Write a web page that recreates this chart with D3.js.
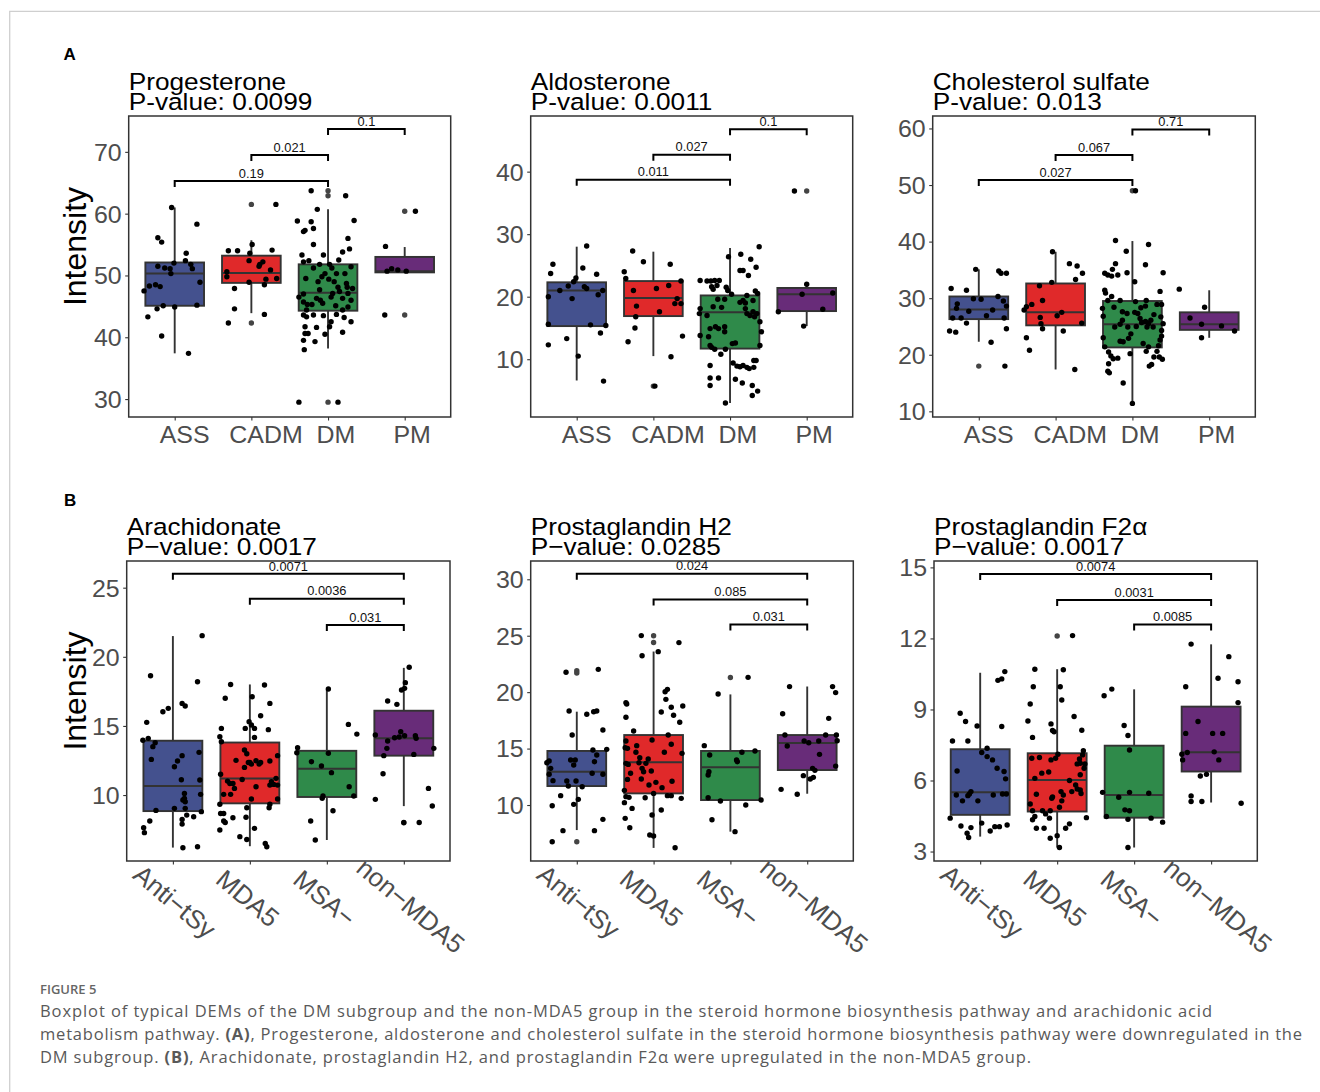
<!DOCTYPE html>
<html>
<head>
<meta charset="utf-8">
<script src="https://cdn.jsdelivr.net/npm/d3@7"></script>
<style>
  body { margin: 0; background: #fff; }
  svg { display: block; }
</style>
</head>
<body>
<div id="chart"></div>
<script>
// groups + colours
var groupsA = ["ASS", "CADM", "DM", "PM"];
var groupsB = ["Anti\u2212tSy", "MDA5", "MSA\u2212", "non\u2212MDA5"];
var fills = ["#44518E", "#E0292A", "#2F8A4A", "#682C79"];

// box stats per group: [q1, median, q3, whiskerLo, whiskerHi]
// points: [jitter offset (in category units), value]
// sig brackets: [from, to, y, label]

// ---- Progesterone
var progDomain = [27.1, 75.8];
var progTicks = [30, 40, 50, 60, 70];
var progBox = [[45.1, 50.3, 52.1, 37.4, 61.0], [48.8, 50.4, 53.2, 43.9, 55.7], [44.3, 47.2, 51.8, 38.2, 60.7], [50.5, 50.7, 53.0, 50.5, 54.6]];
var progOut = [[], [61.5, 42.3], [63.7, 62.9, 29.5], [60.4, 43.6]];
var progPts = [
	[[-0.40,47.5],[-0.33,48.3],[-0.25,48.5],[-0.19,48.2],[-0.35,43.3],[-0.22,56.1],[-0.17,55.4],[-0.22,51.5],[-0.13,51.2],[-0.06,51.1],[-0.01,52.0],[-0.05,50.3],[0.15,53.6],[0.14,52.4],[0.21,51.8],[0.23,51.1],[0.29,58.3],[0.33,48.9],[0.29,45.2],[0.00,44.9],[-0.15,45.1],[-0.23,44.6],[-0.17,40.2],[0.18,37.4],[-0.04,61.0]],
	[[-0.32,50.6],[-0.32,49.8],[-0.30,54.0],[-0.18,54.0],[-0.22,47.9],[-0.22,44.6],[-0.30,42.3],[0.32,61.5],[0.01,55.0],[-0.02,53.6],[-0.03,52.4],[-0.03,48.9],[0.11,51.8],[0.15,52.2],[0.10,51.5],[0.25,50.9],[0.19,49.4],[0.17,48.5],[0.33,49.5],[0.27,54.1],[0.17,43.7]],
	[[-0.22,63.7],[-0.14,60.7],[0.23,62.9],[0.34,58.9],[-0.40,58.8],[-0.22,58.7],[-0.30,57.3],[-0.19,57.6],[-0.32,57.1],[0.26,56.0],[-0.19,55.0],[0.19,53.8],[-0.34,53.3],[-0.06,53.3],[0.14,52.5],[-0.32,52.2],[0.02,51.8],[-0.11,51.8],[0.30,51.4],[-0.19,51.2],[0.05,51.2],[-0.04,50.3],[-0.08,49.8],[-0.29,49.5],[0.11,50.3],[0.22,50.3],[0.01,49.4],[-0.13,49.0],[0.24,48.7],[0.32,47.9],[0.13,48.1],[0.25,48.1],[-0.11,47.7],[-0.32,47.0],[-0.38,46.5],[-0.15,46.3],[0.04,46.5],[0.19,46.3],[0.30,46.0],[-0.10,46.0],[-0.32,45.7],[-0.27,45.3],[-0.21,45.3],[0.10,45.1],[0.26,44.9],[0.19,44.4],[-0.19,43.6],[-0.32,43.6],[-0.28,43.3],[-0.06,43.5],[0.11,43.7],[0.21,43.2],[0.30,42.5],[0.04,42.5],[0.02,41.7],[-0.30,41.7],[-0.15,41.6],[-0.30,40.6],[-0.26,40.6],[-0.04,40.5],[0.19,40.8],[-0.32,39.5],[-0.17,39.3],[-0.31,38.0],[-0.38,29.5],[0.13,29.5],[-0.28,44.4],[0.06,47.1],[0.15,47.4],[0.26,47.1],[-0.07,45.5],[0.08,49.0],[-0.25,52.4],[0.28,54.3]],
	[[-0.25,54.7],[-0.23,50.7],[-0.17,51.1],[-0.09,50.9],[0.02,50.7],[0.14,60.4],[-0.26,43.6]]
];
var progSig = [[0, 2, 65.3, "0.19"], [1, 2, 69.5, "0.021"], [2, 3, 73.7, "0.1"]];

// ---- Aldosterone
var aldoDomain = [0.76, 48.9];
var aldoTicks = [10, 20, 30, 40];
var aldoBox = [[15.3, 21.0, 22.3, 6.6, 28.0], [16.9, 19.8, 22.5, 10.5, 27.2], [11.7, 17.5, 20.2, 3.0, 27.8], [17.7, 20.4, 21.4, 15.3, 22.0]];
var aldoOut = [[], [5.7], [], [36.9]];
var aldoPts = [
	[[-0.31,25.2],[-0.34,23.7],[-0.37,20.0],[-0.37,15.6],[-0.37,12.3],[-0.22,21.0],[-0.13,13.3],[-0.11,21.7],[-0.06,19.7],[-0.04,22.4],[0.02,10.5],[-0.01,23.0],[0.08,24.6],[0.10,21.6],[0.13,28.1],[0.13,21.3],[0.18,15.5],[0.26,23.6],[0.28,20.3],[0.34,21.0],[0.38,15.4],[0.31,14.2],[0.35,6.5]],
	[[-0.38,24.0],[-0.36,22.9],[-0.26,21.0],[-0.22,18.5],[-0.23,16.8],[-0.24,15.0],[-0.33,12.8],[-0.27,27.3],[-0.13,25.6],[0.04,21.3],[0.08,17.6],[0.20,21.8],[0.22,25.2],[0.23,10.4],[0.28,18.9],[0.36,22.5],[0.36,18.9],[0.31,19.7],[0.38,13.7],[0.02,5.7]],
	[[-0.39,22.6],[-0.30,22.5],[-0.25,22.5],[-0.20,22.6],[-0.14,22.6],[-0.17,21.8],[-0.24,21.6],[-0.22,21.2],[-0.05,21.5],[-0.03,21.0],[0.02,20.4],[-0.07,19.6],[-0.11,18.3],[-0.16,19.6],[-0.22,18.4],[-0.39,18.1],[-0.40,17.3],[-0.30,17.0],[-0.26,14.9],[-0.28,13.6],[-0.19,15.2],[-0.15,14.9],[-0.07,15.2],[-0.07,14.4],[-0.39,13.8],[-0.26,12.2],[-0.24,11.9],[-0.20,11.6],[-0.12,10.8],[-0.06,11.6],[0.03,12.5],[0.07,12.6],[0.13,19.1],[0.17,19.4],[0.20,18.1],[0.22,17.3],[0.26,17.0],[0.30,17.6],[0.32,16.8],[0.35,17.3],[0.39,16.0],[0.41,14.4],[0.39,12.2],[0.36,20.5],[0.30,19.4],[0.22,20.2],[0.20,19.0],[-0.02,26.4],[0.14,26.8],[0.27,26.0],[0.13,24.2],[0.17,24.2],[0.24,23.4],[0.34,24.7],[0.38,28.0],[0.33,20.9],[-0.26,9.0],[-0.26,7.0],[-0.15,7.0],[0.04,9.4],[0.09,8.9],[0.13,8.8],[0.17,9.0],[0.22,8.7],[0.25,8.5],[0.31,8.7],[0.31,9.8],[0.34,9.8],[0.07,6.8],[0.16,6.2],[0.29,5.8],[0.36,4.9],[0.29,4.2],[-0.06,3.0],[-0.26,5.8]],
	[[-0.16,36.9],[-0.37,17.6],[-0.06,20.4],[0.00,22.0],[0.34,20.6],[0.21,18.0],[-0.04,15.3]]
];
var aldoSig = [[0, 2, 38.7, "0.011"], [1, 2, 42.7, "0.027"], [2, 3, 46.8, "0.1"]];

// ---- Cholesterol sulfate
var cholDomain = [9.0, 62.2];
var cholTicks = [10, 20, 30, 40, 50, 60];
var cholBox = [[26.3, 28.0, 30.3, 22.3, 35.1], [25.2, 27.5, 32.6, 17.4, 38.2], [21.3, 25.4, 29.5, 11.4, 40.1], [24.4, 25.4, 27.5, 23.0, 31.4]];
var cholOut = [[18.0], [], [49.0], []];
var cholPts = [
	[[-0.36,31.7],[-0.29,28.2],[-0.28,29.0],[-0.34,26.5],[-0.38,24.2],[-0.30,24.0],[-0.23,26.5],[-0.16,31.4],[-0.16,25.6],[-0.13,27.7],[-0.07,29.9],[-0.04,35.1],[0.03,29.8],[0.10,26.9],[0.16,22.2],[0.18,27.9],[0.25,30.3],[0.26,34.8],[0.29,34.4],[0.36,34.4],[0.32,29.5],[0.36,28.6],[0.33,26.5],[0.36,24.6],[0.34,18.0]],
	[[-0.41,27.9],[-0.38,28.5],[-0.31,28.9],[-0.38,23.0],[-0.34,20.8],[-0.21,32.2],[-0.20,26.6],[-0.17,29.6],[-0.17,24.6],[-0.19,25.5],[-0.05,32.8],[-0.04,38.2],[0.02,26.9],[0.08,27.5],[0.10,24.2],[0.18,36.1],[0.28,35.7],[0.26,33.3],[0.35,34.4],[0.34,25.6],[0.25,17.4]],
	[[0.04,49.0],[-0.22,40.2],[-0.08,38.3],[-0.07,34.5],[0.03,32.9],[0.21,39.5],[0.17,35.9],[0.40,34.5],[-0.22,36.1],[-0.26,35.1],[-0.36,34.4],[-0.32,34.1],[-0.27,33.9],[-0.19,34.1],[-0.36,31.4],[-0.35,30.9],[0.36,31.2],[-0.27,30.3],[-0.16,29.6],[-0.32,29.6],[-0.24,28.4],[-0.39,28.2],[-0.38,26.8],[-0.13,27.6],[-0.13,26.1],[-0.07,27.3],[-0.06,24.9],[-0.05,22.9],[-0.02,23.7],[0.03,27.5],[0.05,25.0],[0.12,25.7],[0.17,25.9],[0.19,24.9],[0.21,25.5],[0.24,26.1],[0.27,24.9],[0.28,27.1],[0.32,28.9],[0.38,28.9],[0.37,26.7],[0.40,25.5],[0.38,24.3],[0.38,23.3],[0.36,22.6],[0.34,21.6],[-0.38,23.0],[-0.36,21.4],[-0.31,20.5],[-0.28,19.8],[-0.25,19.3],[-0.19,19.4],[-0.31,18.4],[-0.32,17.1],[-0.30,16.8],[0.18,20.6],[0.28,19.6],[0.32,20.6],[0.35,19.6],[0.39,19.2],[0.25,18.3],[0.22,18.0],[-0.12,15.0],[0.00,11.4],[0.18,29.6],[0.04,29.4],[0.17,28.6],[0.11,28.3],[0.07,27.3],[0.10,26.4],[-0.16,25.4],[-0.23,24.9],[-0.16,22.4],[-0.12,22.3],[-0.03,20.2],[0.14,22.0],[0.21,21.4]],
	[[-0.39,31.6],[-0.25,26.5],[-0.10,25.4],[-0.06,28.4],[-0.10,23.0],[0.16,25.1],[0.33,24.2]]
];
var cholSig = [[0, 2, 50.9, "0.027"], [1, 2, 55.3, "0.067"], [2, 3, 59.8, "0.71"]];

// ---- Arachidonate
var araDomain = [5.23, 26.93];
var araTicks = [10, 15, 20, 25];
var araBox = [[8.84, 10.65, 13.93, 6.2, 21.5], [9.4, 11.2, 13.8, 6.3, 18.0], [9.86, 11.9, 13.2, 6.75, 17.7], [12.85, 14.1, 16.1, 9.2, 19.2]];
var araOut = [[], [], [], [8.0]];
var araPts = [
	[[-0.38,7.64],[-0.37,7.28],[-0.30,8.12],[-0.22,8.89],[-0.39,13.96],[-0.32,14.10],[-0.26,13.50],[-0.23,13.79],[-0.28,12.58],[-0.34,15.26],[-0.29,18.63],[-0.13,16.03],[-0.06,16.27],[0.12,16.63],[0.16,16.44],[0.32,18.20],[0.38,21.53],[0.02,12.05],[0.06,12.46],[0.12,12.85],[0.11,11.11],[0.02,9.04],[0.15,10.12],[0.15,9.76],[0.13,9.64],[0.16,9.52],[0.16,9.04],[0.18,8.55],[0.12,8.24],[0.12,7.90],[0.13,6.19],[0.32,6.26],[0.27,8.43],[0.35,11.09],[0.34,13.09],[0.36,10.05],[0.37,8.80]],
	[[-0.37,14.82],[-0.39,14.22],[-0.37,13.86],[-0.38,11.50],[-0.39,9.33],[-0.38,8.67],[-0.34,8.67],[-0.34,8.12],[-0.32,8.02],[-0.39,7.47],[-0.22,8.36],[-0.25,10.05],[-0.34,10.05],[-0.32,17.0],[-0.25,18.0],[-0.18,12.51],[-0.20,10.48],[-0.29,11.01],[-0.26,10.84],[-0.22,10.84],[-0.10,11.13],[-0.07,12.0],[-0.07,13.26],[-0.04,12.99],[-0.01,15.31],[0.02,15.07],[-0.06,14.82],[0.03,17.11],[0.06,14.82],[0.06,14.17],[-0.02,12.36],[0.00,12.36],[0.02,12.24],[0.08,12.48],[0.14,12.36],[0.12,12.24],[0.08,10.60],[0.02,9.71],[-0.04,9.08],[-0.05,8.39],[0.06,7.59],[-0.13,6.99],[-0.04,6.79],[0.14,15.74],[0.19,17.96],[0.26,16.63],[0.24,14.73],[0.26,12.46],[0.36,12.85],[0.34,11.21],[0.28,10.97],[0.26,10.72],[0.31,10.77],[0.36,10.72],[0.36,9.71],[0.26,9.33],[0.25,9.08],[0.20,6.50],[0.22,6.26]],
	[[-0.38,13.43],[-0.39,13.06],[-0.20,12.41],[-0.07,12.10],[0.02,13.02],[0.06,11.62],[0.02,17.67],[0.28,15.11],[0.39,14.41],[0.29,10.60],[0.35,9.93],[-0.05,9.93],[-0.06,9.76],[0.08,8.87],[-0.21,8.12],[-0.15,6.75]],
	[[0.07,19.24],[0.02,18.13],[0.01,17.72],[-0.03,17.60],[-0.21,16.80],[-0.09,16.56],[-0.37,14.34],[-0.21,13.91],[-0.12,14.15],[-0.04,14.58],[-0.06,14.20],[0.01,14.29],[0.15,14.29],[0.16,14.10],[-0.22,13.38],[-0.26,12.85],[0.13,12.94],[0.39,13.38],[-0.27,11.54],[-0.37,9.69],[0.32,10.48],[0.37,9.21],[0.20,8.02],[0.00,8.02]]
];
var araSig = [[0, 3, 26.0, "0.0071"], [1, 3, 24.2, "0.0036"], [2, 3, 22.3, "0.031"]];

// ---- Prostaglandin H2
var pgh2Domain = [5.04, 31.62];
var pgh2Ticks = [10, 15, 20, 25, 30];
var pgh2Box = [[11.68, 12.95, 14.79, 7.78, 18.27], [11.03, 13.8, 16.2, 6.2, 23.6], [10.44, 13.34, 14.79, 7.64, 19.8], [13.1, 15.5, 16.2, 11.0, 20.5]];
var pgh2Out = [[21.9, 21.7, 6.75], [25.0, 24.4], [21.3], []];
var pgh2Pts = [
	[[-0.39,13.75],[-0.36,13.90],[-0.34,13.25],[-0.36,12.72],[-0.31,12.16],[-0.32,9.94],[-0.32,6.75],[-0.21,10.83],[-0.18,7.73],[-0.14,21.76],[-0.10,18.33],[-0.06,16.20],[-0.13,12.13],[-0.11,11.68],[-0.04,13.54],[-0.08,13.99],[-0.02,13.99],[-0.01,12.13],[0.02,10.50],[-0.04,10.06],[0.07,11.62],[0.13,18.04],[0.22,18.27],[0.26,18.33],[0.28,22.02],[0.34,16.65],[0.23,13.84],[0.26,14.43],[0.21,14.87],[0.34,12.72],[0.39,14.93],[0.20,12.81],[0.34,8.73],[0.23,7.73]],
	[[-0.16,25.01],[-0.15,23.23],[0.06,23.59],[0.33,24.39],[-0.36,19.07],[-0.35,18.95],[-0.36,17.77],[-0.26,16.56],[-0.36,15.67],[-0.37,15.08],[-0.34,15.02],[-0.36,13.69],[-0.33,13.60],[-0.30,12.81],[-0.34,12.27],[-0.38,11.30],[-0.36,10.74],[-0.38,10.21],[-0.32,10.68],[-0.28,9.70],[-0.37,8.82],[-0.31,7.99],[-0.22,15.26],[-0.23,14.67],[-0.18,14.19],[-0.19,13.75],[-0.15,13.25],[-0.13,12.95],[-0.07,14.08],[-0.10,13.69],[-0.03,13.01],[-0.06,11.77],[-0.02,15.76],[0.00,11.03],[-0.02,9.11],[-0.05,7.34],[0.00,7.25],[-0.16,12.30],[-0.11,10.65],[0.03,12.01],[0.10,9.56],[0.11,11.54],[0.14,14.67],[0.19,16.20],[0.23,15.38],[0.24,12.10],[0.23,10.83],[0.18,10.83],[0.28,6.22],[0.15,20.04],[0.18,20.25],[0.16,19.36],[0.10,18.24],[0.23,18.66],[0.26,17.95],[0.38,18.77],[0.34,17.33],[0.37,14.58],[0.36,10.59]],
	[[-0.34,15.26],[-0.27,14.43],[-0.28,12.95],[-0.29,12.66],[-0.29,10.65],[-0.24,8.70],[-0.16,19.84],[-0.13,10.35],[0.06,7.64],[0.08,13.99],[0.09,13.84],[0.15,14.67],[0.23,21.31],[0.20,10.00],[0.32,14.79],[0.40,10.44]],
	[[-0.34,11.39],[-0.13,10.95],[-0.32,18.09],[-0.29,16.20],[-0.26,15.23],[-0.23,20.49],[-0.04,15.67],[0.02,15.52],[-0.05,12.60],[0.04,12.30],[0.08,12.45],[0.07,13.25],[0.10,13.07],[0.16,14.49],[0.15,15.67],[0.24,16.20],[0.28,17.68],[0.33,20.49],[0.37,19.96],[0.38,16.20],[0.39,15.70],[0.37,13.45]]
];
var pgh2Sig = [[0, 3, 30.5, "0.024"], [1, 3, 28.2, "0.085"], [2, 3, 26.0, "0.031"]];

// ---- Prostaglandin F2a
var pgfDomain = [2.6, 15.27];
var pgfTicks = [3, 6, 9, 12, 15];
var pgfBox = [[4.55, 5.5, 7.32, 3.63, 10.55], [4.69, 6.02, 7.15, 3.17, 10.7], [4.43, 5.39, 7.47, 3.17, 9.85], [6.38, 7.19, 9.12, 5.07, 11.75]];
var pgfOut = [[], [12.1], [], []];
var pgfPts = [
	[[-0.39,4.41],[-0.36,7.67],[-0.30,6.40],[-0.31,5.39],[-0.23,5.14],[-0.26,8.84],[-0.25,4.08],[-0.19,8.49],[-0.17,3.77],[-0.15,3.59],[-0.12,4.01],[-0.16,7.67],[-0.14,5.43],[-0.16,5.36],[-0.12,5.53],[-0.04,8.30],[-0.03,5.14],[0.02,7.18],[0.02,4.20],[0.09,7.36],[0.09,7.01],[0.13,3.87],[0.16,6.87],[0.17,5.39],[0.22,6.52],[0.19,4.05],[0.25,4.05],[0.23,10.23],[0.28,10.29],[0.32,10.60],[0.28,8.28],[0.31,6.38],[0.33,6.07],[0.29,5.43],[0.34,5.43],[0.35,4.12]],
	[[0.20,12.12],[-0.29,10.70],[-0.31,9.96],[-0.35,9.23],[-0.38,8.51],[-0.32,7.82],[-0.33,6.94],[-0.32,4.34],[-0.35,5.01],[-0.32,4.72],[-0.29,4.48],[-0.27,3.98],[-0.23,6.97],[-0.20,6.31],[-0.27,5.42],[-0.29,6.09],[-0.17,3.98],[-0.19,4.72],[-0.15,4.59],[-0.08,8.39],[-0.06,8.11],[-0.04,8.06],[-0.11,6.36],[-0.08,6.87],[-0.06,5.31],[-0.07,5.25],[-0.09,4.72],[-0.10,4.41],[-0.09,3.56],[-0.02,6.94],[0.01,7.11],[0.03,3.17],[0.03,4.87],[0.00,3.67],[0.05,5.53],[0.06,5.14],[0.04,9.96],[0.06,9.40],[0.08,10.68],[0.11,3.98],[0.16,4.17],[0.22,8.70],[0.26,6.70],[0.29,6.91],[0.24,5.81],[0.26,5.64],[0.30,6.73],[0.32,8.12],[0.33,7.08],[0.30,6.24],[0.31,5.45],[0.30,5.60],[0.35,6.52],[0.34,7.26],[0.38,4.43],[0.36,6.70],[0.16,6.00],[0.19,5.53],[0.08,5.39]],
	[[-0.39,9.58],[-0.29,9.86],[-0.13,8.32],[-0.08,7.90],[-0.06,7.29],[-0.41,5.50],[-0.36,4.48],[-0.20,5.29],[-0.12,4.76],[-0.06,4.72],[-0.06,5.50],[-0.08,4.36],[-0.08,3.17],[0.19,5.46],[0.22,4.41],[0.37,4.24]],
	[[-0.26,11.76],[-0.33,9.96],[-0.17,8.49],[-0.33,7.99],[-0.38,7.11],[-0.37,6.87],[-0.31,7.18],[-0.14,6.19],[-0.06,6.26],[-0.26,5.35],[-0.26,5.11],[-0.12,5.11],[0.02,7.99],[0.15,7.99],[0.04,7.21],[0.10,6.87],[0.09,10.32],[0.23,11.23],[0.35,10.17],[0.35,9.29],[0.39,5.04]]
];
var pgfSig = [[0, 3, 14.72, "0.0074"], [1, 3, 13.62, "0.0031"], [2, 3, 12.59, "0.0085"]];

var W = 1320, H = 1092;
var FONT = "'Liberation Sans', Arial, Helvetica, sans-serif";
var STRETCH = 1.07; // the source figure is a bit wider than tall

var svg = d3.select("#chart").append("svg")
	.attr("width", W)
	.attr("height", H)
	.style("font-family", FONT);

// page frame
svg.append("path")
	.attr("d", "M9.7," + H + "V11.3H" + W)
	.attr("fill", "none")
	.attr("stroke", "#cfcfcf")
	.attr("stroke-width", 1.3);

function stretch(sel) {
	sel.each(function(){
		var len = this.getComputedTextLength();
		this.setAttribute("textLength", len * STRETCH);
		this.setAttribute("lengthAdjust", "spacingAndGlyphs");
	});
}

var panels = [
	{title: "Progesterone", p: "P-value: 0.0099", groups: groupsA, box: progBox, out: progOut, pts: progPts, sig: progSig, domain: progDomain, ticks: progTicks, rect: [128.7, 116, 322, 301], ylab: true, rotate: false},
	{title: "Aldosterone", p: "P-value: 0.0011", groups: groupsA, box: aldoBox, out: aldoOut, pts: aldoPts, sig: aldoSig, domain: aldoDomain, ticks: aldoTicks, rect: [530.7, 116, 322, 301], ylab: false, rotate: false},
	{title: "Cholesterol sulfate", p: "P-value: 0.013", groups: groupsA, box: cholBox, out: cholOut, pts: cholPts, sig: cholSig, domain: cholDomain, ticks: cholTicks, rect: [932.7, 116, 322.6, 301], ylab: false, rotate: false},
	{title: "Arachidonate", p: "P\u2212value: 0.0017", groups: groupsB, box: araBox, out: araOut, pts: araPts, sig: araSig, domain: araDomain, ticks: araTicks, rect: [126.7, 561, 323.3, 300], ylab: true, rotate: true},
	{title: "Prostaglandin H2", p: "P\u2212value: 0.0285", groups: groupsB, box: pgh2Box, out: pgh2Out, pts: pgh2Pts, sig: pgh2Sig, domain: pgh2Domain, ticks: pgh2Ticks, rect: [530.7, 561, 322.6, 300], ylab: false, rotate: true},
	{title: "Prostaglandin F2\u03b1", p: "P\u2212value: 0.0017", groups: groupsB, box: pgfBox, out: pgfOut, pts: pgfPts, sig: pgfSig, domain: pgfDomain, ticks: pgfTicks, rect: [934, 561, 323.3, 300], ylab: false, rotate: true}
];

panels.forEach(drawPanel);

function drawPanel(cfg){
	var rx = cfg.rect[0], ry = cfg.rect[1], rw = cfg.rect[2], rh = cfg.rect[3];
	var g = svg.append("g");

	var x = d3.scalePoint().domain(cfg.groups).range([rx, rx + rw]).padding(0.6);
	var y = d3.scaleLinear().domain(cfg.domain).range([ry + rh, ry]);
	var step = x.step();
	var bw = step * 0.765;

	// title, two lines
	var t1 = g.append("text").attr("x", rx).attr("y", ry - 26.5)
		.attr("font-size", 24.5).attr("fill", "#000").text(cfg.title);
	var t2 = g.append("text").attr("x", rx).attr("y", ry - 6.5)
		.attr("font-size", 24.5).attr("fill", "#000").text(cfg.p);
	stretch(t1); stretch(t2);

	// y axis
	var yAx = g.append("g")
		.attr("transform", "translate(" + rx + ",0)")
		.call(d3.axisLeft(y).tickValues(cfg.ticks).tickSize(3.5).tickPadding(3.5).tickFormat(d3.format("d")));
	yAx.select(".domain").remove();
	yAx.selectAll(".tick line").attr("stroke", "#333").attr("stroke-width", 1.1);
	yAx.selectAll(".tick text")
		.attr("font-family", FONT).attr("font-size", 23.3).attr("fill", "#4D4D4D")
		.attr("dy", "0.36em");
	stretch(yAx.selectAll(".tick text"));

	// x axis ticks only
	var xAx = g.append("g")
		.attr("transform", "translate(0," + (ry + rh) + ")")
		.call(d3.axisBottom(x).tickSize(3.5).tickFormat(""));
	xAx.select(".domain").remove();
	xAx.selectAll(".tick line").attr("stroke", "#333").attr("stroke-width", 1.1);

	// x labels (hjust ~0.3 like the source)
	cfg.groups.forEach(function(name){
		if(!cfg.rotate){
			var t = g.append("text").attr("y", ry + rh + 26.3)
				.attr("font-size", 23.3).attr("fill", "#4D4D4D").text(name);
			stretch(t);
			var L = +t.attr("textLength");
			t.attr("x", x(name) - 0.3 * L);
		}else{
			var tg = g.append("g")
				.attr("transform", "translate(" + (x(name) - 19) + "," + (ry + rh + 35) + ") rotate(40)");
			var tr = tg.append("text").attr("font-size", 26).attr("fill", "#4D4D4D").text(name);
			var Lr = tr.node().getComputedTextLength();
			tr.attr("x", -0.3 * Lr);
		}
	});

	// boxes
	var bg = g.append("g");
	cfg.box.forEach(function(b, i){
		var cx = x(cfg.groups[i]);
		bg.append("line").attr("x1", cx).attr("x2", cx).attr("y1", y(b[3])).attr("y2", y(b[0]))
			.attr("stroke", "#333").attr("stroke-width", 1.9);
		bg.append("line").attr("x1", cx).attr("x2", cx).attr("y1", y(b[2])).attr("y2", y(b[4]))
			.attr("stroke", "#333").attr("stroke-width", 1.9);
		bg.append("rect")
			.attr("x", cx - bw / 2).attr("width", bw)
			.attr("y", y(b[2])).attr("height", y(b[0]) - y(b[2]))
			.attr("fill", fills[i]).attr("stroke", "#333").attr("stroke-width", 1.9);
		bg.append("line").attr("x1", cx - bw / 2).attr("x2", cx + bw / 2).attr("y1", y(b[1])).attr("y2", y(b[1]))
			.attr("stroke", "#333").attr("stroke-width", 2);
	});

	// outliers from the boxplot layer
	cfg.out.forEach(function(arr, i){
		bg.selectAll(null).data(arr).enter().append("circle")
			.attr("cx", x(cfg.groups[i])).attr("cy", function(d){ return y(d); })
			.attr("r", 2.7).attr("fill", "#444");
	});

	// jittered points
	cfg.pts.forEach(function(arr, i){
		var cx = x(cfg.groups[i]);
		g.append("g").selectAll("circle").data(arr).enter().append("circle")
			.attr("cx", function(d){ return cx + d[0] * step; })
			.attr("cy", function(d){ return y(d[1]); })
			.attr("r", 2.7).attr("fill", "#000");
	});

	// significance brackets
	cfg.sig.forEach(function(s){
		var x1 = x(cfg.groups[s[0]]), x2 = x(cfg.groups[s[1]]), yy = y(s[2]);
		g.append("path")
			.attr("d", "M" + x1 + "," + (yy + 6) + "V" + yy + "H" + x2 + "V" + (yy + 6))
			.attr("fill", "none").attr("stroke", "#000").attr("stroke-width", 2);
		var lt = g.append("text").attr("x", (x1 + x2) / 2).attr("y", yy - 3.3)
			.attr("text-anchor", "middle").attr("font-size", 12).attr("fill", "#111").text(s[3]);
		stretch(lt);
	});

	// panel border
	g.append("rect").attr("x", rx).attr("y", ry).attr("width", rw).attr("height", rh)
		.attr("fill", "none").attr("stroke", "#333").attr("stroke-width", 1.5);

	if(cfg.ylab){
		g.append("text")
			.attr("transform", "translate(86.2," + (ry + rh / 2 - 20) + ") rotate(-90)")
			.attr("text-anchor", "middle").attr("font-size", 32).attr("fill", "#000")
			.text("Intensity");
	}
}

// panel letters
svg.append("text").attr("x", 63.5).attr("y", 60).attr("font-size", 17).attr("font-weight", "bold").text("A");
svg.append("text").attr("x", 64).attr("y", 505.7).attr("font-size", 17).attr("font-weight", "bold").text("B");

// caption
var CAP = "'Open Sans', 'Noto Sans', sans-serif";
svg.append("text").attr("x", 40).attr("y", 994)
	.attr("font-family", CAP).attr("font-size", 13).attr("font-weight", 600)
	.attr("fill", "#666").text("FIGURE 5");

var capLines = [
	[["Boxplot of typical DEMs of the DM subgroup and the non-MDA5 group in the steroid hormone biosynthesis pathway and arachidonic acid", false]],
	[["metabolism pathway. ", false], ["(A)", true], [", Progesterone, aldosterone and cholesterol sulfate in the steroid hormone biosynthesis pathway were downregulated in the", false]],
	[["DM subgroup. ", false], ["(B)", true], [", Arachidonate, prostaglandin H2, and prostaglandin F2\u03b1 were upregulated in the non-MDA5 group.", false]]
];
var capWidths = [1172, 1262, 991];
capLines.forEach(function(parts, i){
	var t = svg.append("text").attr("x", 40).attr("y", 1016.5 + i * 23)
		.attr("font-family", CAP).attr("font-size", 16.5).attr("fill", "#595959")
		.attr("textLength", capWidths[i]).attr("lengthAdjust", "spacing");
	parts.forEach(function(p){
		t.append("tspan").attr("font-weight", p[1] ? 700 : 400).text(p[0]);
	});
});
</script>
</body>
</html>
